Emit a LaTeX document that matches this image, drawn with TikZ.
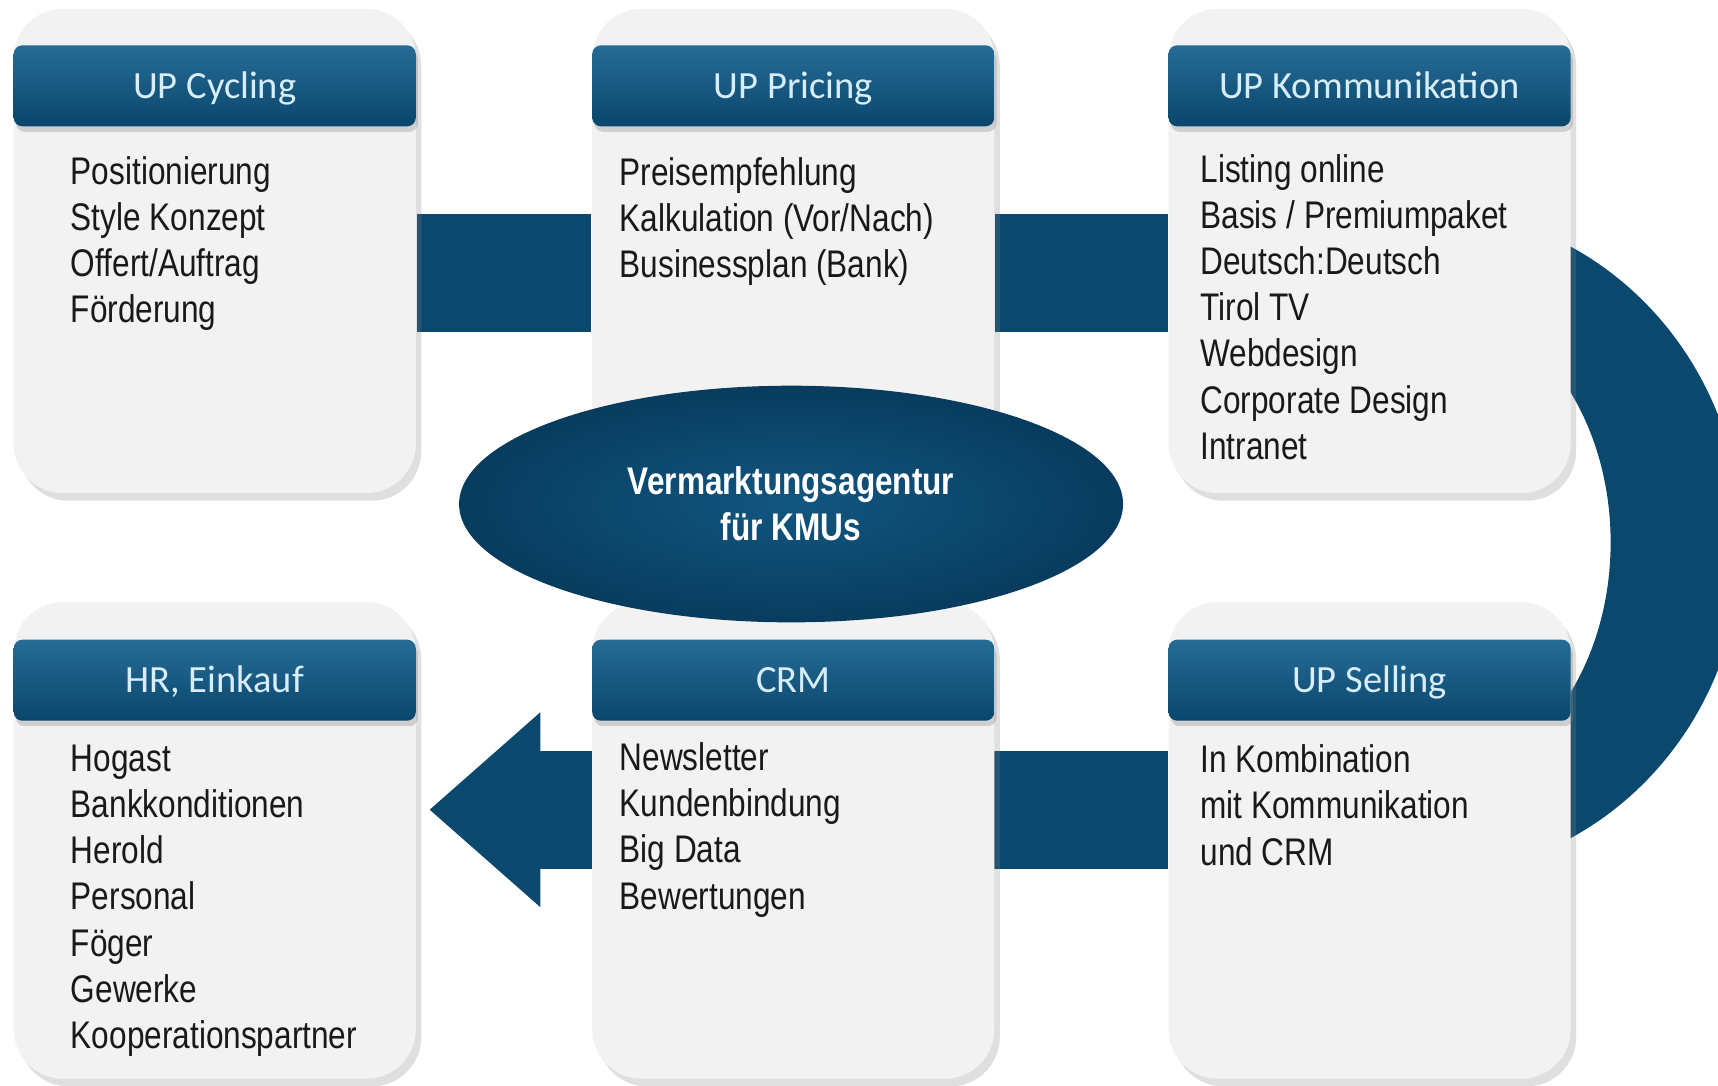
\documentclass[tikz,border=0pt]{standalone}
\usepackage{fontspec}
\setmainfont{Liberation Sans}[FakeStretch=0.82]
\newfontfamily\hdrfont{Carlito}
\usetikzlibrary{shapes.geometric,shadows,backgrounds}

\definecolor{bandblue}{RGB}{11,72,110}
\definecolor{hdrtop}{RGB}{38,108,150}
\definecolor{hdrbot}{RGB}{10,70,108}
\definecolor{hdrtext}{RGB}{215,238,250}
\definecolor{cardgray}{RGB}{242,242,242}
\definecolor{listtext}{RGB}{25,25,25}
\definecolor{ovalin}{RGB}{18,86,128}
\definecolor{ovalout}{RGB}{8,60,94}

\tikzset{
  card/.style={rounded corners=4.5mm, fill=cardgray, minimum width=36.7mm,
    inner sep=0pt, drop shadow={shadow xshift=0.5mm, shadow yshift=-0.7mm, opacity=0.25}},
  header/.style={rounded corners=0.8mm, top color=hdrtop, bottom color=hdrbot,
    minimum width=36.7mm, minimum height=7.4mm, inner sep=0pt,
    text height=6.4pt, text depth=0pt,
    text=hdrtext, font=\hdrfont\fontsize{10}{12}\selectfont,
    drop shadow={shadow xshift=0.2mm, shadow yshift=-0.5mm, opacity=0.3}},
  list/.style={anchor=north west, align=left, inner sep=0pt, text=listtext,
    font=\fontsize{10}{12}\selectfont},
  band/.style={fill=bandblue, draw=none},
}

\begin{document}
\begin{tikzpicture}[x=0.1mm, y=-0.1mm]
  \clip (0,0) rectangle (1568,991);

  % obere Reihe
  \node[card, minimum height=44.2mm] (cyc) at (196,229) {};
  \node[card, minimum height=44.2mm] (pri) at (724,229) {};
  \node[card, minimum height=44.2mm] (kom) at (1250,229) {};

  % untere Reihe
  \node[card, minimum height=43.5mm] (hr) at (196,767) {};
  \node[card, minimum height=43.5mm] (crm) at (724,767) {};
  \node[card, minimum height=43.5mm] (sel) at (1250,767) {};

  % Verbindungen hinter den Karten
  \begin{pgfonlayer}{background}
    \draw[bandblue, line width=10.8mm] ([yshift=-2mm]cyc.east) -- ([yshift=-2mm]pri.west);
    \draw[bandblue, line width=10.8mm] ([yshift=-2mm]pri.east) -- ([yshift=-2mm]kom.west);
    % Bogen von UP Kommunikation zu UP Selling
    \fill[band] (1300,191) arc[start angle=-90, end angle=90, x radius=290, y radius=304]
      -- ++(0,-83) arc[start angle=90, end angle=-90, x radius=170, y radius=221] -- cycle;
    % Pfeil nach links
    \draw[bandblue, line width=10.8mm] ([yshift=2.8mm]sel.west) -- ([xshift=11.3mm, yshift=2.8mm]hr.east);
    \fill[band] ([xshift=11.3mm, yshift=11.7mm]hr.east) -- ([xshift=1.2mm, yshift=2.8mm]hr.east)
      -- ([xshift=11.3mm, yshift=-6.1mm]hr.east) -- cycle;
  \end{pgfonlayer}

  % Kopfzeilen
  \node[header] (cychdr) at ([yshift=-7.1mm]cyc.north) {UP Cycling};
  \node[header] (prihdr) at ([yshift=-7.1mm]pri.north) {UP Pricing};
  \node[header] (komhdr) at ([yshift=-7.1mm]kom.north) {UP Kommunikation};
  \node[header] (hrhdr) at ([yshift=-7.2mm]hr.north) {HR, Einkauf};
  \node[header] (crmhdr) at ([yshift=-7.2mm]crm.north) {CRM};
  \node[header] (selhdr) at ([yshift=-7.2mm]sel.north) {UP Selling};

  % Inhalte
  \node[list] (cyclist) at (64,142) {Positionierung\\Style Konzept\\Offert/Auftrag\\Förderung};
  \node[list] (prilist) at (565,143) {Preisempfehlung\\Kalkulation (Vor/Nach)\\Businessplan (Bank)};
  \node[list] (komlist) at (1095,140) {Listing online\\Basis / Premiumpaket\\Deutsch:Deutsch\\Tirol TV\\Webdesign\\Corporate Design\\Intranet};
  \node[list] (hrlist) at (64,679) {Hogast\\Bankkonditionen\\Herold\\Personal\\Föger\\Gewerke\\Kooperationspartner};
  \node[list] (crmlist) at (565,677) {Newsletter\\Kundenbindung\\Big Data\\Bewertungen};
  \node[list] (sellist) at (1095,679) {In Kombination\\mit Kommunikation\\und CRM};

  % Mitte
  \node[ellipse, shade, inner color=ovalin, outer color=ovalout, minimum width=60.6mm,
    minimum height=21.6mm, inner sep=0pt, align=center, text=white,
    font=\bfseries\fontsize{10}{12}\selectfont] (agentur) at (722,460)
    {Vermarktungsagentur\\für KMUs};
\end{tikzpicture}
\end{document}
